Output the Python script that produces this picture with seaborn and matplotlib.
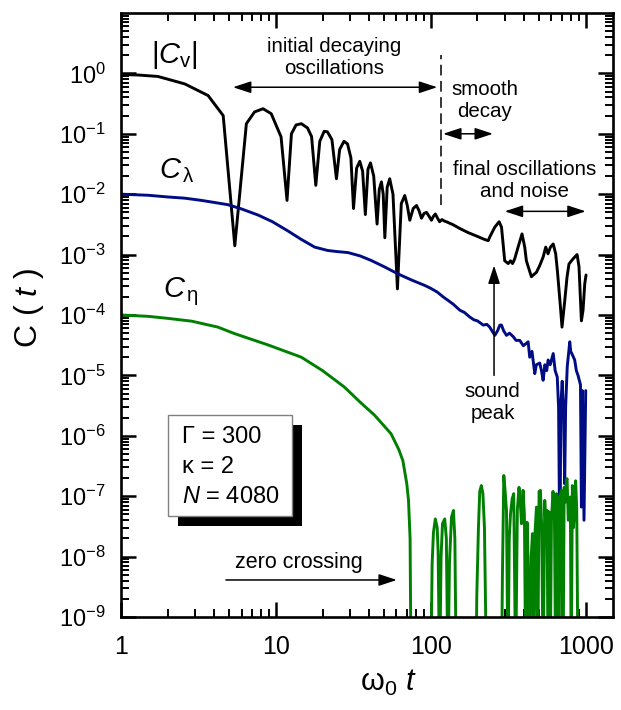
# -*- coding: utf-8 -*-
"""Time correlation functions |C_v|, C_lambda and C_eta (log-log plot)."""

import matplotlib
matplotlib.use("Agg")
import matplotlib.pyplot as plt
from matplotlib import ticker
from matplotlib.patches import Rectangle
import numpy as np
import pandas as pd
import seaborn as sns

# value below the bottom of the axis: the curve passes through zero there
BELOW = 1e-10

# ------------------------------------------------------------------
# data
# ------------------------------------------------------------------
# |C_v|  (black)
t_v = [1.0, 1.29, 1.73, 2.58, 3.65, 4.57, 5.43, 6.45, 7.28, 8.26,
       9.33, 10.8, 11.8, 12.6, 13.5, 14.6, 16.0, 17.0, 18.1, 19.2,
       20.5, 21.5, 23.0, 24.6, 25.8, 27.5, 29.0, 30.5, 31.7, 33.2,
       34.8, 36.3, 37.8, 39.3, 40.8, 42.8, 45.0, 46.5, 48.0, 49.3,
       50.5, 52.3, 54.3, 57.0, 60.9, 64.5, 67.9, 70.5, 73.2, 77.0,
       80.9, 84.0, 87.1, 90.5, 93.8, 97.5, 101, 104, 107, 110,
       114, 118, 122, 126, 140, 154, 175, 200, 220, 235,
       240, 259, 276, 286, 293, 300, 316, 327, 337, 348,
       366, 388, 404, 414, 446, 481, 505, 531, 552, 571,
       592, 617, 640, 656, 687, 703, 732, 758, 780, 828,
       880, 905, 938, 961, 986, 1005]
c_v = [0.96, 0.94, 0.89, 0.67, 0.43, 0.20, 1.4e-3, 0.147, 0.23, 0.26,
       0.215, 0.089, 7.9e-3, 0.10, 0.14, 0.147, 0.125, 0.09, 0.014, 0.075,
       0.11, 0.108, 0.08, 0.018, 0.055, 0.075, 0.068, 0.04, 5.8e-3, 0.027,
       0.035, 0.024, 4.6e-3, 0.026, 0.033, 0.02, 3.2e-3, 0.012, 0.016, 0.01,
       1.9e-3, 0.013, 0.018, 0.01, 2.7e-4, 7e-3, 9.5e-3, 6.5e-3, 3.7e-3, 5.8e-3,
       6.5e-3, 5.3e-3, 4.0e-3, 4.8e-3, 5.0e-3, 4.3e-3, 3.7e-3, 4.3e-3, 4.7e-3, 4.1e-3,
       3.5e-3, 3.8e-3, 3.6e-3, 3.5e-3, 3.1e-3, 2.7e-3, 2.3e-3, 2.0e-3, 1.8e-3, 1.7e-3,
       1.95e-3, 2.85e-3, 3.5e-3, 2.85e-3, 1.5e-3, 7.9e-4, 7.1e-4, 7.9e-4, 7.1e-4, 8.5e-4,
       1.33e-3, 2.2e-3, 1.33e-3, 7.9e-4, 4.3e-4, 5.1e-4, 6.6e-4, 9.1e-4, 1.33e-3, 1.03e-3,
       1.33e-3, 1.5e-3, 1.03e-3, 5.5e-4, 1.35e-4, 6.3e-5, 1.7e-4, 4.3e-4, 7e-4, 8.5e-4,
       1e-3, 6.3e-4, 8e-5, 1.2e-4, 3.3e-4, 4.6e-4]

# C_lambda  (navy)
t_l = [1.0, 1.5, 2.0, 2.57, 3.3, 4.0, 4.9, 6.0, 7.7, 9.5,
       12.0, 14.5, 17.8, 21.6, 25.0, 29.2, 35.0, 41.2, 50.0, 61.3,
       75.0, 91.0, 99.0, 110, 120, 129, 140, 154, 165, 178,
       190, 200, 218, 230, 240, 259, 270, 279, 286, 295,
       308, 322, 340, 355, 375, 396, 414, 425, 435, 450,
       469, 480, 505, 518, 531, 545, 560, 572, 590, 617,
       635, 655, 668, 676, 682, 690, 705, 720, 732, 742,
       760, 789, 800, 820, 849, 870, 892, 925, 938, 952,
       975, 1000]
c_l = [1.0e-2, 9.6e-3, 9.0e-3, 8.6e-3, 7.9e-3, 7.3e-3, 6.7e-3, 5.7e-3, 4.5e-3, 3.5e-3,
       2.45e-3, 1.8e-3, 1.33e-3, 1.17e-3, 1.12e-3, 1.08e-3, 9.5e-4, 8.0e-4, 6.3e-4, 4.8e-4,
       3.8e-4, 3.1e-4, 2.8e-4, 2.4e-4, 2.0e-4, 1.75e-4, 1.5e-4, 1.2e-4, 1.1e-4, 9.3e-5,
       8.3e-5, 8.0e-5, 6.8e-5, 7.0e-5, 6.3e-5, 4.6e-5, 5.5e-5, 6.8e-5, 6.8e-5, 5.5e-5,
       4.6e-5, 5.0e-5, 4.4e-5, 3.8e-5, 3.8e-5, 3.1e-5, 3.4e-5, 3.6e-5, 2.0e-5, 2.5e-5,
       1.07e-5, 1.5e-5, 1.6e-5, 1.2e-5, 8.3e-6, 1.5e-5, 1.2e-5, 1.8e-5, 1.5e-5, 2.3e-5,
       1.2e-5, 9.4e-6, 3e-6, 8e-8, 5e-9, 3e-6, 8e-6, 2e-6, 1.6e-7, 3e-6,
       1.4e-5, 3.6e-5, 2.5e-5, 2.2e-5, 1.8e-5, 1.2e-5, 1e-5, 7e-6, 6.6e-8, 5.6e-6,
       4e-8, 5.6e-6]

# C_eta  (green)
t_e = [1.0, 1.5, 2.0, 2.86, 4.22, 5.43, 8.88, 14.6, 20.0, 27.7,
       35.0, 43.3, 55.4, 62.0, 66.0, 70.0, 71.8, 73.5, 74.6, 100,
       102, 104, 107, 110, 111.5, 114, 116.5, 119, 123, 126,
       129, 132, 136, 140, 143, 146, 196, 198, 203, 207,
       212, 217, 222, 229, 286, 290, 296, 302, 308, 315,
       321, 327, 335, 343, 353, 362, 371, 378, 385, 394,
       402, 410, 418, 424, 431, 445, 453, 462, 469, 481,
       490, 500, 510, 520, 531, 544, 553, 563, 572, 580,
       590, 601, 615, 628, 640, 647, 663, 672, 680, 697,
       714, 726, 740, 750, 758, 772, 789, 796, 806, 820,
       832, 845, 861, 875, 892]
c_e = [1.0e-4, 9.5e-5, 8.8e-5, 7.9e-5, 6.3e-5, 4.9e-5, 3.2e-5, 2.0e-5, 1.2e-5, 6.4e-6,
       3.6e-6, 2.2e-6, 1.08e-6, 6e-7, 3.9e-7, 1.6e-7, 8.5e-8, 2e-8, BELOW, BELOW,
       7.6e-9, 2.5e-8, 4.2e-8, 3e-8, 1.2e-8, BELOW, 1e-8, 3.5e-8, 4.2e-8, 2e-8,
       BELOW, 8e-9, 4.5e-8, 5.8e-8, 2e-8, BELOW, BELOW, 2.1e-9, 3e-8, 1.2e-7,
       1.5e-7, 1.1e-7, 3e-8, BELOW, BELOW, 5e-9, 2.2e-7, 1.2e-7, 5.8e-8, BELOW,
       2e-8, 5.1e-8, 9e-8, 1.1e-7, BELOW, 6e-8, 1.4e-7, 8e-8, 3.5e-8, 1.25e-7,
       5e-8, BELOW, 3.7e-8, 1e-8, BELOW, 1e-8, 2.4e-8, BELOW, 2.1e-8, 6.6e-8,
       BELOW, 1.2e-7, 1.25e-7, 3e-8, BELOW, 8.5e-8, 3e-8, 5.8e-8, BELOW, 5.5e-8,
       BELOW, 4e-8, 1.2e-7, 5e-8, BELOW, 1.1e-7, 7.5e-8, BELOW, 1e-7, 1.25e-7,
       BELOW, 1.4e-7, 8e-8, 1.8e-7, 1.95e-7, 4e-8, 6.6e-8, 9.7e-8, BELOW, 1.5e-7,
       3e-8, 5e-8, 1.8e-7, 6e-8, BELOW]

x_ticks = [1, 10, 100, 1000]
x_tick_labels = ["1", "10", "100", "1000"]
y_ticks = [10.0 ** k for k in range(-9, 1)]
y_tick_labels = [r"$10^{%d}$" % k for k in range(-9, 1)]

series_colors = {"Cv": "black", "Clambda": "#000c84", "Ceta": "#008000"}

df = pd.concat([
    pd.DataFrame({"t": t_v, "C": c_v, "series": "Cv"}),
    pd.DataFrame({"t": t_l, "C": c_l, "series": "Clambda"}),
    pd.DataFrame({"t": t_e, "C": c_e, "series": "Ceta"}),
], ignore_index=True)

# ------------------------------------------------------------------
# style
# ------------------------------------------------------------------
sns.set_style("ticks")
plt.rcParams["font.family"] = ["Liberation Sans", "DejaVu Sans"]
plt.rcParams["mathtext.fontset"] = "custom"
plt.rcParams["mathtext.rm"] = "Liberation Sans"
plt.rcParams["mathtext.it"] = "Liberation Sans:italic"
plt.rcParams["mathtext.bf"] = "Liberation Sans:bold"
plt.rcParams["axes.unicode_minus"] = False
for key in ["text.color", "axes.labelcolor", "xtick.color", "ytick.color",
            "axes.edgecolor"]:
    plt.rcParams[key] = "black"

fig = plt.figure(figsize=(6.21, 7.10), dpi=100)
ax = fig.add_axes([0.1948, 0.131, 0.7923, 0.8507])
ax.set_xscale("log")
ax.set_yscale("log")

sns.lineplot(data=df, x="t", y="C", hue="series", palette=series_colors,
             estimator=None, sort=False, linewidth=2.1, legend=False, ax=ax)

ax.set_xlim(1, 1500)
ax.set_ylim(1e-9, 10)

ax.xaxis.set_major_locator(ticker.FixedLocator(x_ticks))
ax.xaxis.set_major_formatter(ticker.FixedFormatter(x_tick_labels))
ax.xaxis.set_minor_locator(ticker.LogLocator(base=10, subs=np.arange(2, 10), numticks=100))
ax.xaxis.set_minor_formatter(ticker.NullFormatter())
ax.yaxis.set_major_locator(ticker.FixedLocator(y_ticks))
ax.yaxis.set_major_formatter(ticker.FixedFormatter(y_tick_labels))
ax.yaxis.set_minor_locator(ticker.LogLocator(base=10, subs=np.arange(2, 10), numticks=100))
ax.yaxis.set_minor_formatter(ticker.NullFormatter())

ax.tick_params(which="both", direction="in", top=True, right=True,
               colors="black", labelcolor="black")
ax.tick_params(which="major", length=11, width=1.8)
ax.tick_params(which="minor", length=6, width=1.4)
ax.tick_params(axis="x", which="major", pad=13, labelsize=18)
ax.tick_params(axis="y", which="major", pad=11, labelsize=17)
for sp in ax.spines.values():
    sp.set_linewidth(1.9)
    sp.set_color("black")

ax.set_xlabel(r"ω$_0$ $t$", fontsize=22)
ax.xaxis.label.set_va("center")
ax.xaxis.set_label_coords(0.543, -0.109)
ax.set_ylabel(r"C ( $t$ )", fontsize=23)
ax.yaxis.label.set_va("center")
ax.yaxis.set_label_coords(-0.187, 0.512)

# ------------------------------------------------------------------
# annotations
# ------------------------------------------------------------------
ax.text(2.21, 1.99, r"$|C_{\mathrm{v}}|$", fontsize=21, ha="center", va="center")
ax.text(2.31, 0.0248, r"$C_{\,\mathrm{λ}}$", fontsize=21, ha="center", va="center")
ax.text(2.44, 2.46e-4, r"$C_{\,\mathrm{η}}$", fontsize=21, ha="center", va="center")

txt = dict(fontsize=14.8, ha="center", va="center", linespacing=1.2)
ax.text(23.7, 1.84, "initial decaying\noscillations", **txt)
ax.text(223, 0.357, "smooth\ndecay", **txt)
ax.text(404, 0.017, "final oscillations\nand noise", **txt)
ax.text(251, 3.5e-6, "sound\npeak", **txt)
ax.text(14.1, 8e-9, "zero crossing", fontsize=15.5, ha="center", va="center")

both = dict(arrowstyle="<|-|>,head_length=0.55,head_width=0.18", color="black",
            lw=1.1, shrinkA=0, shrinkB=0, mutation_scale=20)
one = dict(both, arrowstyle="-|>,head_length=0.55,head_width=0.18")
ax.annotate("", xy=(110, 0.59), xytext=(5.28, 0.59), arrowprops=both)
ax.annotate("", xy=(252, 0.10), xytext=(120, 0.10), arrowprops=both)
ax.annotate("", xy=(1000, 5.2e-3), xytext=(300, 5.2e-3), arrowprops=both)
ax.annotate("", xy=(256, 6.6e-4), xytext=(256, 1e-5), arrowprops=one)
ax.annotate("", xy=(60.4, 4.1e-9), xytext=(4.76, 4.1e-9), arrowprops=one)

ax.vlines(117, 6.5e-3, 1.99, colors="black", linewidth=1.1,
          linestyles=(0, (7, 3.6)))

# parameter box with drop shadow
ax.add_patch(Rectangle((0.1159, 0.1506), 0.252, 0.1672, transform=ax.transAxes,
                       facecolor="black", edgecolor="none", zorder=5))
ax.add_patch(Rectangle((0.0955, 0.1672), 0.252, 0.1672, transform=ax.transAxes,
                       facecolor="white", edgecolor="#808080", lw=1.0, zorder=6))
box_txt = dict(fontsize=17, ha="left", va="center", transform=ax.transAxes, zorder=7)
ax.text(0.124, 0.298, "Γ = 300", **box_txt)
ax.text(0.124, 0.248, "κ = 2", **box_txt)
ax.text(0.124, 0.199, r"$N$ = 4080", **box_txt)

fig.savefig("out.png", dpi=100)
